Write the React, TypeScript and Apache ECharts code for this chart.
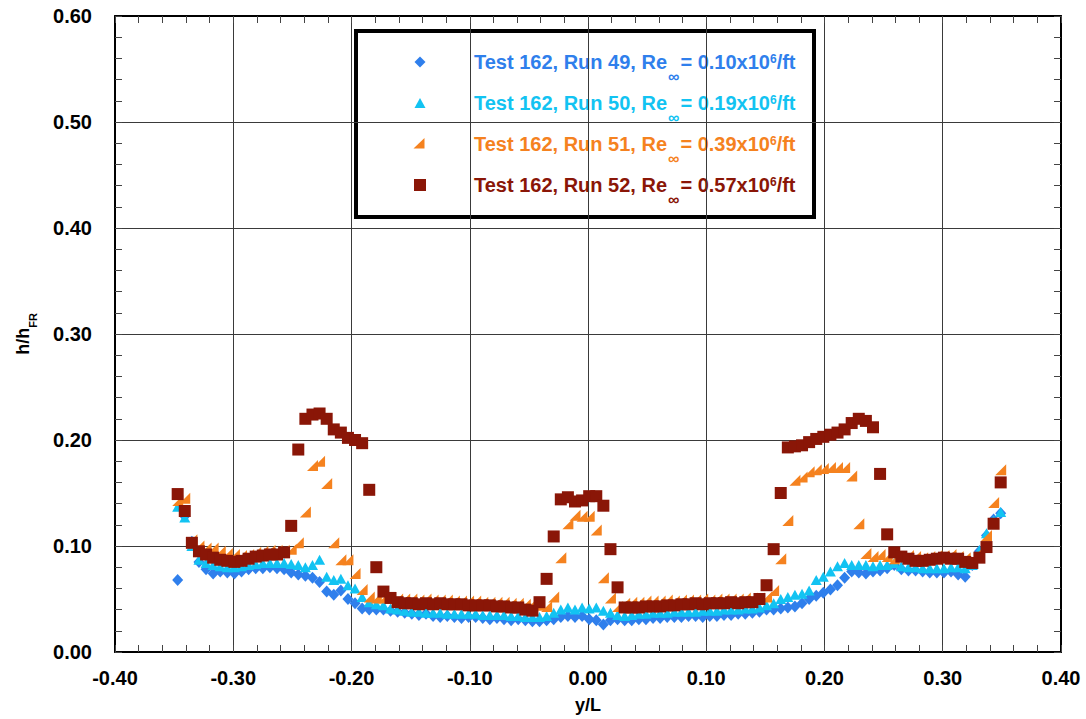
import React, { useEffect, useRef } from 'react';
import * as echarts from 'echarts';

// y/L stations (shared by all runs)
const yL = [
  -0.347, -0.341, -0.335, -0.329, -0.323, -0.317, -0.311, -0.305, -0.299, -0.293,
  -0.287, -0.281, -0.275, -0.269, -0.263, -0.257, -0.251, -0.245, -0.239, -0.233,
  -0.227, -0.221, -0.215, -0.209, -0.203, -0.197, -0.191, -0.185, -0.179, -0.173,
  -0.167, -0.161, -0.155, -0.149, -0.143, -0.137, -0.131, -0.125, -0.119, -0.113,
  -0.107, -0.101, -0.095, -0.089, -0.083, -0.077, -0.071, -0.065, -0.059, -0.053,
  -0.047, -0.041, -0.035, -0.029, -0.023, -0.017, -0.011, -0.005, 0.001, 0.007,
  0.013, 0.019, 0.025, 0.031, 0.037, 0.043, 0.049, 0.055, 0.061, 0.067,
  0.073, 0.079, 0.085, 0.091, 0.097, 0.103, 0.109, 0.115, 0.121, 0.127,
  0.133, 0.139, 0.145, 0.151, 0.157, 0.163, 0.169, 0.175, 0.181, 0.187,
  0.193, 0.199, 0.205, 0.211, 0.217, 0.223, 0.229, 0.235, 0.241, 0.247,
  0.253, 0.259, 0.265, 0.271, 0.277, 0.283, 0.289, 0.295, 0.301, 0.307,
  0.313, 0.319, 0.325, 0.331, 0.337, 0.343, 0.349,
];

// h/hFR, Test 162 Run 49 (Re = 0.10x10^6/ft)
const run49 = [
  0.068, 0.128, 0.104, 0.085, 0.078, 0.074, 0.076, 0.075, 0.074, 0.076,
  0.078, 0.079, 0.079, 0.080, 0.079, 0.078, 0.075, 0.073, 0.072, 0.070,
  0.066, 0.057, 0.054, 0.058, 0.050, 0.046, 0.041, 0.040, 0.040, 0.040,
  0.039, 0.038, 0.037, 0.036, 0.035, 0.036, 0.034, 0.033, 0.034, 0.033,
  0.032, 0.033, 0.033, 0.032, 0.031, 0.032, 0.031, 0.030, 0.031, 0.030,
  0.029, 0.029, 0.030, 0.031, 0.033, 0.034, 0.033, 0.034, 0.031, 0.030,
  0.026, 0.030, 0.031, 0.030, 0.030, 0.031, 0.031, 0.032, 0.032, 0.033,
  0.033, 0.033, 0.034, 0.034, 0.033, 0.034, 0.034, 0.035, 0.035, 0.036,
  0.036, 0.037, 0.038, 0.040, 0.040, 0.041, 0.042, 0.043, 0.046, 0.050,
  0.053, 0.056, 0.059, 0.063, 0.070, 0.076, 0.075, 0.074, 0.076, 0.077,
  0.079, 0.082, 0.078, 0.077, 0.077, 0.076, 0.075, 0.075, 0.075, 0.076,
  0.073, 0.071, 0.082, 0.095, 0.110, 0.125, 0.131,
];

// Run 50 (Re = 0.19x10^6/ft)
const run50 = [
  0.137, 0.127, 0.100, 0.087, 0.084, 0.082, 0.081, 0.080, 0.080, 0.081,
  0.082, 0.083, 0.084, 0.084, 0.084, 0.084, 0.083, 0.082, 0.080, 0.082,
  0.087, 0.071, 0.068, 0.069, 0.063, 0.060, 0.052, 0.047, 0.045, 0.044,
  0.041, 0.040, 0.039, 0.038, 0.038, 0.037, 0.037, 0.037, 0.036, 0.036,
  0.036, 0.036, 0.036, 0.035, 0.035, 0.035, 0.035, 0.034, 0.034, 0.033,
  0.033, 0.033, 0.034, 0.037, 0.040, 0.042, 0.040, 0.042, 0.041, 0.042,
  0.039, 0.037, 0.035, 0.034, 0.035, 0.036, 0.036, 0.037, 0.037, 0.037,
  0.038, 0.038, 0.038, 0.038, 0.039, 0.039, 0.039, 0.040, 0.040, 0.040,
  0.041, 0.041, 0.042, 0.044, 0.046, 0.050, 0.052, 0.054, 0.055, 0.058,
  0.068, 0.071, 0.076, 0.081, 0.084, 0.082, 0.082, 0.082, 0.081, 0.082,
  0.082, 0.084, 0.081, 0.080, 0.080, 0.079, 0.079, 0.079, 0.079, 0.080,
  0.080, 0.079, 0.082, 0.096, 0.112, 0.124, 0.132,
];

// Run 51 (Re = 0.39x10^6/ft)
const run51 = [
  0.143, 0.145, 0.106, 0.100, 0.098, 0.098, 0.095, 0.093, 0.092, 0.091,
  0.092, 0.094, 0.095, 0.096, 0.096, 0.096, 0.097, 0.103, 0.132, 0.176,
  0.180, 0.159, 0.103, 0.087, 0.087, 0.074, 0.059, 0.052, 0.051, 0.051,
  0.051, 0.050, 0.050, 0.050, 0.049, 0.050, 0.049, 0.049, 0.049, 0.048,
  0.048, 0.048, 0.048, 0.047, 0.047, 0.047, 0.047, 0.046, 0.046, 0.045,
  0.046, 0.044, 0.043, 0.052, 0.089, 0.121, 0.129, 0.128, 0.128, 0.115,
  0.070, 0.051, 0.043, 0.046, 0.047, 0.047, 0.048, 0.048, 0.048, 0.049,
  0.048, 0.049, 0.049, 0.049, 0.050, 0.049, 0.050, 0.050, 0.050, 0.050,
  0.051, 0.051, 0.051, 0.052, 0.058, 0.088, 0.124, 0.162, 0.165, 0.170,
  0.172, 0.173, 0.174, 0.174, 0.174, 0.166, 0.121, 0.093, 0.090, 0.092,
  0.090, 0.088, 0.090, 0.091, 0.090, 0.089, 0.090, 0.091, 0.091, 0.092,
  0.090, 0.089, 0.088, 0.095, 0.110, 0.141, 0.172,
];

// Run 52 (Re = 0.57x10^6/ft)
const run52 = [
  0.149, 0.133, 0.103, 0.095, 0.092, 0.089, 0.087, 0.086, 0.085, 0.086,
  0.088, 0.090, 0.091, 0.092, 0.092, 0.094, 0.119, 0.191, 0.220, 0.224,
  0.225, 0.220, 0.210, 0.207, 0.202, 0.200, 0.197, 0.153, 0.080, 0.057,
  0.051, 0.047, 0.046, 0.046, 0.045, 0.046, 0.045, 0.046, 0.045, 0.045,
  0.045, 0.044, 0.044, 0.044, 0.044, 0.043, 0.043, 0.042, 0.042, 0.040,
  0.039, 0.047, 0.069, 0.109, 0.144, 0.146, 0.142, 0.143, 0.147, 0.147,
  0.138, 0.097, 0.061, 0.042, 0.042, 0.042, 0.043, 0.043, 0.043, 0.044,
  0.044, 0.045, 0.045, 0.046, 0.045, 0.046, 0.046, 0.046, 0.047, 0.046,
  0.047, 0.047, 0.050, 0.063, 0.097, 0.150, 0.193, 0.194, 0.195, 0.198,
  0.201, 0.203, 0.205, 0.207, 0.210, 0.216, 0.220, 0.218, 0.212, 0.168,
  0.111, 0.094, 0.090, 0.088, 0.086, 0.086, 0.087, 0.088, 0.089, 0.088,
  0.088, 0.085, 0.084, 0.089, 0.099, 0.121, 0.160,
];

const seriesNames = ['Run 49', 'Run 50', 'Run 51', 'Run 52'];
const reValues = ['0.10', '0.19', '0.39', '0.57'];
const colors = ['#2f7fec', '#12c3f2', '#f5821f', '#8a1607'];
const xTicks = { min: -0.4, max: 0.4, interval: 0.1 };
const yTicks = { min: 0, max: 0.6, interval: 0.1 };

const FONT = '"Liberation Sans", Arial, Helvetica, sans-serif';

const toPairs = (vals: (number | null)[]) =>
  yL.map((x, i) => (vals[i] == null ? null : [x, vals[i]])).filter((p) => p !== null);

export default function App() {
  const ref = useRef<HTMLDivElement>(null);

  useEffect(() => {
    if (!ref.current) return;
    const chart = echarts.init(ref.current, null, { renderer: 'svg' });

    const frameAxis = {
      axisLine: { show: true, onZero: false, lineStyle: { color: '#000', width: 2 } },
      axisTick: { show: true, inside: true, length: 7, lineStyle: { color: '#444', width: 1 } },
      minorTick: { show: true, splitNumber: 5, length: 7, lineStyle: { color: '#444', width: 1 } },
    };

    const legendRows = seriesNames.map((name, i) => {
      const top = 52 + i * 41;
      const c = colors[i];
      return {
        type: 'text',
        x: 474,
        y: top,
        style: {
          text: `{t|Test 162, ${name}, Re}{s|∞}{t|= ${reValues[i]}x10}{p|6}{t|/ft}`,
          verticalAlign: 'top',
          rich: {
            t: { fill: c, fontSize: 20, fontWeight: 'bold', fontFamily: FONT, lineHeight: 24, verticalAlign: 'top' },
            s: { fill: c, fontSize: 16, fontWeight: 'bold', fontFamily: FONT, lineHeight: 12, padding: [16, 1, 0, 1], verticalAlign: 'top' },
            p: { fill: c, fontSize: 12, fontWeight: 'bold', fontFamily: FONT, lineHeight: 12, padding: [1, 0, 0, 0], verticalAlign: 'top' },
          },
        },
      };
    });

    const option = {
      animation: false,
      backgroundColor: '#fff',
      grid: { left: 115, top: 16, width: 946, height: 636, containLabel: false },
      xAxis: [
        {
          type: 'value',
          ...xTicks,
          position: 'bottom',
          name: 'y/L',
          nameLocation: 'middle',
          nameGap: 44,
          nameTextStyle: { fontSize: 18, fontWeight: 'bold', color: '#000', fontFamily: FONT },
          axisLabel: {
            margin: 16,
            fontSize: 20,
            fontWeight: 'bold',
            color: '#000',
            fontFamily: FONT,
            formatter: (v: number) => v.toFixed(2),
          },
          splitLine: { show: true, lineStyle: { color: '#3a3a3a', width: 1 } },
          ...frameAxis,
        },
        {
          type: 'value',
          ...xTicks,
          position: 'top',
          axisLabel: { show: false },
          splitLine: { show: false },
          ...frameAxis,
        },
      ],
      yAxis: [
        {
          type: 'value',
          ...yTicks,
          position: 'left',
          name: '{a|h/h}{b|FR}',
          nameLocation: 'middle',
          nameRotate: 90,
          nameGap: 80,
          nameTextStyle: {
            color: '#000',
            rich: {
              a: { fontSize: 18, fontWeight: 'bold', color: '#000', fontFamily: FONT, lineHeight: 21, verticalAlign: 'top' },
              b: { fontSize: 11, fontWeight: 'bold', color: '#000', fontFamily: FONT, lineHeight: 11, padding: [13, 0, 0, 0], verticalAlign: 'top' },
            },
          },
          axisLabel: {
            margin: 23,
            fontSize: 20,
            fontWeight: 'bold',
            color: '#000',
            fontFamily: FONT,
            formatter: (v: number) => v.toFixed(2),
          },
          splitLine: { show: true, lineStyle: { color: '#3a3a3a', width: 1 } },
          ...frameAxis,
        },
        {
          type: 'value',
          ...yTicks,
          position: 'right',
          axisLabel: { show: false },
          splitLine: { show: false },
          ...frameAxis,
        },
      ],
      series: [
        {
          name: seriesNames[0],
          type: 'scatter',
          data: toPairs(run49),
          symbol: 'diamond',
          symbolSize: [11, 12],
          itemStyle: { color: colors[0], opacity: 1 },
        },
        {
          name: seriesNames[1],
          type: 'scatter',
          data: toPairs(run50),
          symbol: 'triangle',
          symbolSize: [11, 10],
          itemStyle: { color: colors[1], opacity: 1 },
        },
        {
          name: seriesNames[2],
          type: 'scatter',
          data: toPairs(run51),
          symbol: 'path://M10,0 L10,10 L0,10 Z',
          symbolSize: [11, 11],
          itemStyle: { color: colors[2], opacity: 1 },
        },
        {
          name: seriesNames[3],
          type: 'scatter',
          data: toPairs(run52),
          symbol: 'rect',
          symbolSize: [12, 12],
          itemStyle: { color: colors[3], opacity: 1 },
        },
      ],
      graphic: [
        {
          type: 'group',
          children: [
            {
              type: 'rect',
              shape: { x: 356, y: 31, width: 458, height: 186 },
              style: { fill: '#fff', stroke: '#000', lineWidth: 4 },
            },
            {
              type: 'polygon',
              shape: { points: [[420, 56.5], [425.5, 62], [420, 67.5], [414.5, 62]] },
              style: { fill: colors[0] },
            },
            {
              type: 'polygon',
              shape: { points: [[420, 98], [425.5, 108], [414.5, 108]] },
              style: { fill: colors[1] },
            },
            {
              type: 'polygon',
              shape: { points: [[424.5, 138], [424.5, 148.5], [413.5, 148.5]] },
              style: { fill: colors[2] },
            },
            {
              type: 'rect',
              shape: { x: 414, y: 179, width: 12, height: 12 },
              style: { fill: colors[3] },
            },
            ...legendRows,
          ],
        },
      ],
    };

    chart.setOption(option as any);
    return () => chart.dispose();
  }, []);

  return (
    <div
      ref={ref}
      style={{ position: 'absolute', left: 0, top: 0, width: 1086, height: 719, background: '#fff' }}
    />
  );
}
